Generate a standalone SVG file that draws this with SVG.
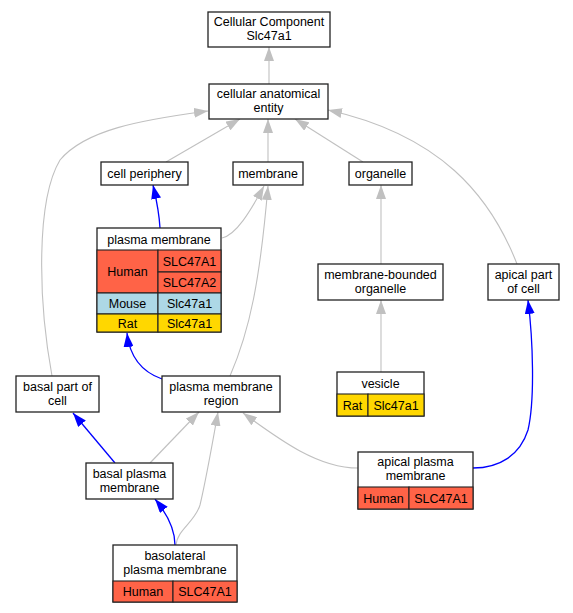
<svg xmlns="http://www.w3.org/2000/svg" width="573" height="613" viewBox="0 0 573 613">
<style>
text{font-family:"Liberation Sans",Arial,sans-serif;font-size:12.5px;text-anchor:middle;fill:#000}
.box{fill:#fff;stroke:#222;stroke-width:1.3}
.cell{stroke:#222;stroke-width:1.1}
.hu{fill:#ff6347}.mo{fill:#add8e6}.ra{fill:#ffd700}
.g{fill:none;stroke:#c0c0c0;stroke-width:1.1;marker-end:url(#ag)}
.b{fill:none;stroke:#0000ff;stroke-width:1.3;marker-end:url(#ab)}
</style>
<defs>
<marker id="ag" markerUnits="userSpaceOnUse" markerWidth="14" markerHeight="10" viewBox="0 0 14 10" refX="14" refY="5" orient="auto"><path d="M0,0 L14,5 L0,10 z" fill="#c0c0c0"/></marker>
<marker id="ab" markerUnits="userSpaceOnUse" markerWidth="14" markerHeight="10" viewBox="0 0 14 10" refX="14" refY="5" orient="auto"><path d="M0,0 L14,5 L0,10 z" fill="#0000ff"/></marker>
</defs>
<rect width="573" height="613" fill="#fff"/>
<g id="edges">
<path class="g" d="M269,84 L269,47"/>
<path class="g" d="M166,162 L240,119"/>
<path class="g" d="M268,162 L268,119"/>
<path class="g" d="M363,162 L295,119"/>
<path class="g" d="M517,264 C490,195 440,135 328,110"/>
<path class="g" d="M52,376 C38,300 36,200 60,160 C85,130 140,120 208,111"/>
<path class="g" d="M222,238 C236,235 250,212 264,186"/>
<path class="g" d="M230,376 C250,330 260,280 268,186"/>
<path class="g" d="M381,264 L381,185"/>
<path class="g" d="M381,372 L381,300"/>
<path class="g" d="M150,463 L199,412"/>
<path class="g" d="M176,545 C177,530 195,522 200,505 C206,480 213,440 218,412"/>
<path class="g" d="M358,468 C318,468 280,440 243,413"/>
<path class="b" d="M160,228 C159,210 156,198 153,185"/>
<path class="b" d="M162,379 C145,373 130,360 127,333"/>
<path class="b" d="M115,463 L73,413"/>
<path class="b" d="M175,545 C175,530 168,515 155,499"/>
<path class="b" d="M473,468 C500,468 520,455 528,430 C535,400 533,340 528,300"/>
</g>
<g id="cc">
<rect class="box" x="208" y="12" width="122" height="35"/>
<text x="269" y="26">Cellular Component</text>
<text x="269" y="40">Slc47a1</text>
</g>
<g id="cae">
<rect class="box" x="209" y="84" width="119" height="35"/>
<text x="268.5" y="98">cellular anatomical</text>
<text x="268.5" y="112">entity</text>
</g>
<g id="cellperiphery">
<rect class="box" x="101" y="162" width="87" height="23"/>
<text x="144.5" y="178">cell periphery</text>
</g>
<g id="membrane">
<rect class="box" x="233" y="162" width="70" height="23"/>
<text x="268" y="178">membrane</text>
</g>
<g id="organelle">
<rect class="box" x="349" y="162" width="63" height="23"/>
<text x="380.5" y="178">organelle</text>
</g>
<g id="plasmamembrane">
<rect class="box" x="97" y="228" width="124" height="104"/>
<text x="159" y="243.5">plasma membrane</text>
<rect class="cell hu" x="97" y="250" width="61" height="43"/>
<rect class="cell hu" x="158" y="250" width="63" height="22"/>
<rect class="cell hu" x="158" y="272" width="63" height="21"/>
<rect class="cell mo" x="97" y="293" width="61" height="21"/>
<rect class="cell mo" x="158" y="293" width="63" height="21"/>
<rect class="cell ra" x="97" y="314" width="61" height="18"/>
<rect class="cell ra" x="158" y="314" width="63" height="18"/>
<text x="127.5" y="276">Human</text>
<text x="189.5" y="265.5">SLC47A1</text>
<text x="189.5" y="287">SLC47A2</text>
<text x="127.5" y="308">Mouse</text>
<text x="189.5" y="308">Slc47a1</text>
<text x="127.5" y="328">Rat</text>
<text x="189.5" y="328">Slc47a1</text>
</g>
<g id="mbo">
<rect class="box" x="318" y="264" width="125" height="36"/>
<text x="380.5" y="278.5">membrane-bounded</text>
<text x="380.5" y="292.5">organelle</text>
</g>
<g id="apicalpart">
<rect class="box" x="488" y="264" width="71" height="36"/>
<text x="523.5" y="278.5">apical part</text>
<text x="523.5" y="292.5">of cell</text>
</g>
<g id="vesicle">
<rect class="box" x="337" y="372" width="87" height="44"/>
<text x="380.5" y="387.5">vesicle</text>
<rect class="cell ra" x="337" y="394" width="31" height="22"/>
<rect class="cell ra" x="368" y="394" width="56" height="22"/>
<text x="352.5" y="409.5">Rat</text>
<text x="396" y="409.5">Slc47a1</text>
</g>
<g id="basalpart">
<rect class="box" x="16" y="376" width="83" height="36"/>
<text x="57.5" y="390.5">basal part of</text>
<text x="57.5" y="404.5">cell</text>
</g>
<g id="pmregion">
<rect class="box" x="162" y="376" width="118" height="36"/>
<text x="221" y="390.5">plasma membrane</text>
<text x="221" y="404.5">region</text>
</g>
<g id="basalpm">
<rect class="box" x="86" y="463" width="87" height="36"/>
<text x="129.5" y="477.5">basal plasma</text>
<text x="129.5" y="491.5">membrane</text>
</g>
<g id="apicalpm">
<rect class="box" x="358" y="452" width="115" height="57"/>
<text x="415.5" y="466">apical plasma</text>
<text x="415.5" y="480">membrane</text>
<rect class="cell hu" x="358" y="487" width="51" height="22"/>
<rect class="cell hu" x="409" y="487" width="64" height="22"/>
<text x="383.5" y="502.5">Human</text>
<text x="441" y="502.5">SLC47A1</text>
</g>
<g id="basolateral">
<rect class="box" x="113" y="545" width="124" height="57"/>
<text x="175" y="559.5">basolateral</text>
<text x="175" y="573.5">plasma membrane</text>
<rect class="cell hu" x="113" y="581" width="60" height="21"/>
<rect class="cell hu" x="173" y="581" width="64" height="21"/>
<text x="143" y="596">Human</text>
<text x="205" y="596">SLC47A1</text>
</g>
</svg>
